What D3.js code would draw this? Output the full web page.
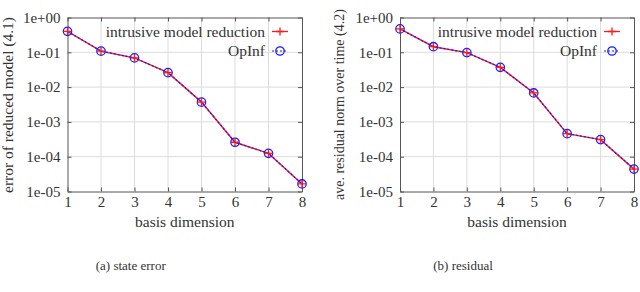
<!DOCTYPE html>
<html>
<head>
<meta charset="utf-8">
<script src="https://cdn.jsdelivr.net/npm/d3@7"></script>
<style>
  body { margin: 0; background: #fff; }
  svg text { font-family: "Liberation Serif", serif; fill: #333; }
</style>
</head>
<body>
<script>
const width = 640;
const height = 292;

// basis dimension 1..8
const dims = [1, 2, 3, 4, 5, 6, 7, 8];

// (a) state error
const stateErrIntrusive = [0.40, 0.108, 0.069, 0.026, 0.0037, 0.00026, 0.000125, 0.0000165];
const stateErrOpInf = [0.40, 0.108, 0.069, 0.026, 0.0037, 0.00026, 0.000125, 0.0000165];

// (b) residual
const residIntrusive = [0.47, 0.145, 0.098, 0.037, 0.0068, 0.00046, 0.00031, 0.000044];
const residOpInf = [0.47, 0.145, 0.098, 0.037, 0.0068, 0.00046, 0.00031, 0.000044];

const yTicks = [1, 1e-1, 1e-2, 1e-3, 1e-4, 1e-5];
const yTickLabels = ["1e+00", "1e-01", "1e-02", "1e-03", "1e-04", "1e-05"];
const legendLabels = ["intrusive model reduction", "OpInf"];

const FONT = '"Liberation Serif", serif';

const svg = d3.select('body').append('svg')
  .attr('width', width)
  .attr('height', height);

const label = (sel, size) => sel.style('font-family', FONT).style('font-size', size + 'px').attr('fill', '#333');

const drawPanel = (left, right, a, b, yTitle, caption, yTitleX, yTitleSize, yTitleY) => {
  const top = 17.5, bottom = 191.5;
  const x = d3.scaleLinear().domain([1, 8]).range([left, right]);
  const y = d3.scaleLog().domain([1e-5, 1]).range([bottom, top]);

  const g = svg.append('g');

  // grid
  g.selectAll('line.gy').data(yTicks.slice(1, 5))
    .join('line')
    .attr('x1', left).attr('x2', right)
    .attr('y1', d => y(d)).attr('y2', d => y(d))
    .attr('stroke', '#dcdcdc').attr('stroke-width', 1);
  g.selectAll('line.gx').data(dims.slice(1, 7))
    .join('line')
    .attr('x1', d => x(d)).attr('x2', d => x(d))
    .attr('y1', top).attr('y2', bottom)
    .attr('stroke', '#dcdcdc').attr('stroke-width', 1);

  // axes with inward ticks
  const fmt = d => yTickLabels[yTicks.indexOf(d)];
  const axL = g.append('g').attr('transform', `translate(${left},0)`)
    .call(d3.axisLeft(y).tickValues(yTicks).tickFormat(fmt).tickSizeInner(-4).tickSizeOuter(0).tickPadding(7));
  const axR = g.append('g').attr('transform', `translate(${right},0)`)
    .call(d3.axisRight(y).tickValues(yTicks).tickFormat('').tickSizeInner(-4).tickSizeOuter(0));
  const axB = g.append('g').attr('transform', `translate(0,${bottom})`)
    .call(d3.axisBottom(x).tickValues(dims).tickFormat(d3.format('d')).tickSizeInner(-4).tickSizeOuter(0).tickPadding(5));
  const axT = g.append('g').attr('transform', `translate(0,${top})`)
    .call(d3.axisTop(x).tickValues(dims).tickFormat('').tickSizeInner(-4).tickSizeOuter(0));
  [axL, axR, axB, axT].forEach(ax => {
    ax.attr('font-family', FONT).attr('font-size', 15);
    ax.selectAll('path').attr('stroke', '#555');
    ax.selectAll('line').attr('stroke', '#555');
    label(ax.selectAll('text'), 15);
  });

  // series
  const line = d3.line().x((d, i) => x(dims[i])).y(d => y(d));
  g.append('path').datum(a).attr('d', line)
    .attr('fill', 'none').attr('stroke', '#ff1a1a').attr('stroke-width', 1.5);
  g.append('path').datum(b).attr('d', line)
    .attr('fill', 'none').attr('stroke', '#1a1aff').attr('stroke-width', 1.2)
    .attr('stroke-dasharray', '2,2');

  g.selectAll('circle.m').data(b)
    .join('circle')
    .attr('cx', (d, i) => x(dims[i])).attr('cy', d => y(d)).attr('r', 4.2)
    .attr('fill', 'none').attr('stroke', '#1a1aff').attr('stroke-width', 1.3);
  const plus = (cx, cy) => `M${cx - 4},${cy}H${cx + 4}M${cx},${cy - 4}V${cy + 4}`;
  g.selectAll('path.p').data(a)
    .join('path')
    .attr('d', (d, i) => plus(x(dims[i]), y(d)))
    .attr('stroke', '#ff1a1a').attr('stroke-width', 1.3);

  // legend
  const lx = right - 22;
  const rows = [top + 14, top + 33.5];
  legendLabels.forEach((lab, i) => {
    label(g.append('text'), 15.5).attr('x', lx - 15).attr('y', rows[i]).attr('dy', '0.33em')
      .attr('text-anchor', 'end').text(lab);
  });
  g.append('line').attr('x1', lx - 8).attr('x2', lx + 8).attr('y1', rows[0]).attr('y2', rows[0])
    .attr('stroke', '#ff1a1a').attr('stroke-width', 1.3);
  g.append('path').attr('d', plus(lx, rows[0])).attr('stroke', '#ff1a1a').attr('stroke-width', 1.3);
  g.append('line').attr('x1', lx - 8).attr('x2', lx + 8).attr('y1', rows[1]).attr('y2', rows[1])
    .attr('stroke', '#1a1aff').attr('stroke-width', 1.2).attr('stroke-dasharray', '2,2');
  g.append('circle').attr('cx', lx).attr('cy', rows[1]).attr('r', 4.2)
    .attr('fill', 'none').attr('stroke', '#1a1aff').attr('stroke-width', 1.3);

  // titles
  label(g.append('text'), 15.5).attr('x', (left + right) / 2).attr('y', 227)
    .attr('text-anchor', 'middle').text('basis dimension');
  label(g.append('text'), yTitleSize)
    .attr('transform', `translate(${yTitleX},${yTitleY}) rotate(-90)`)
    .attr('text-anchor', 'start').attr('dy', '0.33em').text(yTitle);
  label(g.append('text'), 13).attr('x', (left + right) / 2 - 54).attr('y', 265)
    .attr('text-anchor', 'middle').attr('dy', '0.35em').text(caption);
};

drawPanel(67.5, 302, stateErrIntrusive, stateErrOpInf, 'error of reduced model (4.1)', '(a) state error', 8, 15.5, 193);
drawPanel(400, 634, residIntrusive, residOpInf, 'ave. residual norm over time (4.2)', '(b) residual', 339, 14, 200);
</script>
</body>
</html>
